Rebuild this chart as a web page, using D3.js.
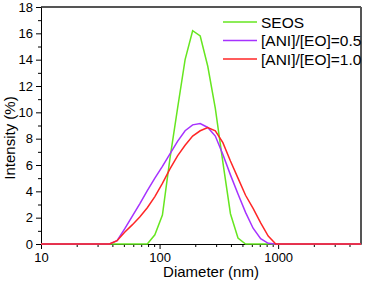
<!DOCTYPE html>
<html>
<head>
<meta charset="utf-8">
<script src="https://cdn.jsdelivr.net/npm/d3@7"></script>
<style>
  body { margin: 0; background: #fff; }
  svg { display: block; font-family: "Liberation Sans", Arial, sans-serif; }
  .axis path, .axis line { stroke: #000; }
  .axis text { font-size: 13px; fill: #000; }
</style>
</head>
<body>
<script>
// size classes (nm)
const sizes = [8.721, 10.10, 11.70, 13.54, 15.69, 18.17, 21.04, 24.36, 28.21, 32.67,
  37.84, 43.82, 50.75, 58.77, 68.06, 78.82, 91.28, 105.7, 122.4, 141.8,
  164.2, 190.1, 220.2, 255.0, 295.3, 342.0, 396.1, 458.7, 531.2, 615.1,
  712.4, 825.0, 955.4, 1106, 1281, 1484, 1718, 1990, 2305, 2669,
  3091, 3580, 4145, 4801, 5560];

// intensity (%) per size class
const seos = [0, 0, 0, 0, 0, 0, 0, 0, 0, 0,
  0, 0, 0, 0, 0, 0, 0.7, 2.2, 6.5, 10.3,
  14.0, 16.2, 15.8, 13.5, 10.3, 6.2, 2.3, 0.45, 0, 0,
  0, 0, 0, 0, 0, 0, 0, 0, 0, 0,
  0, 0, 0, 0, 0];
const ani05 = [0, 0, 0, 0, 0, 0, 0, 0, 0, 0,
  0, 0.25, 1.15, 2.1, 3.05, 4.05, 5.0, 5.9, 6.85, 7.8,
  8.6, 9.05, 9.15, 8.85, 8.2, 6.8, 5.25, 3.8, 2.4, 1.2,
  0.4, 0.05, 0, 0, 0, 0, 0, 0, 0, 0,
  0, 0, 0, 0, 0];
const ani10 = [0, 0, 0, 0, 0, 0, 0, 0, 0, 0,
  0, 0.25, 0.9, 1.45, 2.05, 2.75, 3.6, 4.6, 5.7, 6.7,
  7.5, 8.2, 8.6, 8.85, 8.6, 7.7, 6.3, 5.0, 3.7, 2.7,
  1.6, 0.6, 0, 0, 0, 0, 0, 0, 0, 0,
  0, 0, 0, 0, 0];

const seriesNames = ['SEOS', '[ANI]/[EO]=0.5', '[ANI]/[EO]=1.0'];
const seriesColors = ['#66e620', '#a632ff', '#ff2626'];
const seriesValues = [seos, ani05, ani10];

const xMajor = [10, 100, 1000];
const xMinor = [20, 30, 40, 50, 60, 70, 80, 90, 200, 300, 400, 500, 600, 700, 800, 900, 2000, 3000, 4000];
const yMajor = [0, 2, 4, 6, 8, 10, 12, 14, 16, 18];
const yMinor = [1, 3, 5, 7, 9, 11, 13, 15, 17];

const W = 365;
const H = 284;
const plotLeft = 41;
const plotRight = 361;
const plotTop = 7;
const plotBottom = 244;

const svg = d3.select('body')
  .append('svg')
  .attr('width', W)
  .attr('height', H);

const x = d3.scaleLog()
  .domain([10, 5000])
  .range([plotLeft, plotRight]);

const y = d3.scaleLinear()
  .domain([0, 18])
  .range([plotBottom, plotTop]);

svg.append('defs').append('clipPath')
  .attr('id', 'plot')
  .append('rect')
  .attr('x', plotLeft)
  .attr('y', plotTop - 2)
  .attr('width', plotRight - plotLeft)
  .attr('height', plotBottom - plotTop + 4);

// frame (top/right)
svg.append('line')
  .attr('x1', plotLeft).attr('x2', plotRight)
  .attr('y1', plotTop).attr('y2', plotTop)
  .attr('stroke', '#555')
  .attr('stroke-width', 2);
svg.append('line')
  .attr('x1', plotRight).attr('x2', plotRight)
  .attr('y1', plotTop).attr('y2', plotBottom)
  .attr('stroke', '#555')
  .attr('stroke-width', 2);

// x axis
svg.append('g')
  .attr('class', 'axis')
  .attr('transform', `translate(0,${plotBottom})`)
  .call(d3.axisBottom(x).tickValues(xMinor).tickSize(3).tickFormat(''))
  .call((g) => g.select('.domain').remove());
svg.append('g')
  .attr('class', 'axis')
  .attr('transform', `translate(0,${plotBottom})`)
  .call(d3.axisBottom(x).tickValues(xMajor).tickSize(5).tickSizeOuter(0).tickPadding(4)
    .tickFormat(d3.format('d')));

// y axis
svg.append('g')
  .attr('class', 'axis')
  .attr('transform', `translate(${plotLeft},0)`)
  .call(d3.axisLeft(y).tickValues(yMinor).tickSize(3).tickFormat(''))
  .call((g) => g.select('.domain').remove());
svg.append('g')
  .attr('class', 'axis')
  .attr('transform', `translate(${plotLeft},0)`)
  .call(d3.axisLeft(y).tickValues(yMajor).tickSize(5).tickSizeOuter(0).tickPadding(3));

// series lines
const line = d3.line()
  .x((d) => x(d[0]))
  .y((d) => y(d[1]));

seriesValues.forEach((vals, i) => {
  svg.append('path')
    .datum(sizes.map((s, j) => [s, vals[j]]))
    .attr('clip-path', 'url(#plot)')
    .attr('fill', 'none')
    .attr('stroke', seriesColors[i])
    .attr('stroke-width', 1.5)
    .attr('d', line);
});

// axis titles
svg.append('text')
  .attr('x', 211)
  .attr('y', 277)
  .attr('text-anchor', 'middle')
  .style('font-size', '15px')
  .text('Diameter (nm)');

svg.append('text')
  .attr('transform', 'translate(15,138) rotate(-90)')
  .attr('text-anchor', 'middle')
  .style('font-size', '15px')
  .text('Intensity (%)');

// legend
const legend = svg.selectAll('.legend')
  .data(seriesNames)
  .enter().append('g')
  .attr('class', 'legend')
  .attr('transform', (d, i) => `translate(223,${22 + i * 18.5})`);

legend.append('line')
  .attr('x1', 0).attr('x2', 34)
  .attr('stroke', (d, i) => seriesColors[i])
  .attr('stroke-width', 1.5);

legend.append('text')
  .attr('x', 38)
  .attr('y', 5.5)
  .style('font-size', '15.5px')
  .text((d) => d);
</script>
</body>
</html>
